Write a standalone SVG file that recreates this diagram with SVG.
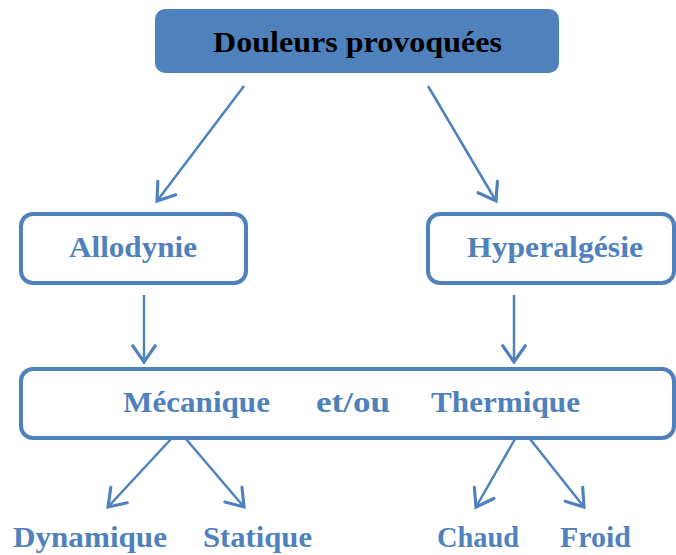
<svg xmlns="http://www.w3.org/2000/svg" width="676" height="555" viewBox="0 0 676 555">
<defs>
<marker id="ah" markerUnits="userSpaceOnUse" markerWidth="30" markerHeight="30" refX="0" refY="0" viewBox="-16 -12 20 24" orient="auto" overflow="visible">
<path d="M -13 -9 L 0 0 L -13 9" fill="none" stroke="#4F81BD" stroke-width="2.5" stroke-linecap="round" stroke-linejoin="miter"/>
</marker>
</defs>
<style>
.box{fill:#fff;stroke:#4F81BD;stroke-width:4}
.lbl{font-family:"Liberation Serif","DejaVu Serif",serif;font-weight:bold;font-size:29px;fill:#4F81BD;text-anchor:middle}
.con line{stroke:#4F81BD;stroke-width:2.5;marker-end:url(#ah)}
</style>
<rect width="676" height="555" fill="#fff"/>
<g id="n-douleurs">
<rect x="155" y="9" width="404" height="64" rx="10" fill="#4F81BD"/>
<text x="357.5" y="52" class="lbl" style="fill:#000" textLength="289" lengthAdjust="spacingAndGlyphs">Douleurs provoquées</text>
</g>
<g id="n-allodynie">
<rect x="21" y="214" width="225" height="69" rx="12" class="box"/>
<text x="133" y="257" class="lbl" textLength="128" lengthAdjust="spacingAndGlyphs">Allodynie</text>
</g>
<g id="n-hyperalgesie">
<rect x="428" y="214" width="246" height="69" rx="12" class="box"/>
<text x="555" y="257" class="lbl" textLength="176" lengthAdjust="spacingAndGlyphs">Hyperalgésie</text>
</g>
<g id="n-mecanique">
<rect x="21" y="369" width="653" height="69" rx="12" class="box"/>
<text x="196.5" y="412" class="lbl" textLength="147" lengthAdjust="spacingAndGlyphs">Mécanique</text>
<text x="353" y="412" class="lbl" textLength="74" lengthAdjust="spacingAndGlyphs">et/ou</text>
<text x="505.5" y="412" class="lbl" textLength="149" lengthAdjust="spacingAndGlyphs">Thermique</text>
</g>
<g id="n-dynamique"><text x="90" y="547" class="lbl" textLength="154" lengthAdjust="spacingAndGlyphs">Dynamique</text></g>
<g id="n-statique"><text x="257.5" y="547" class="lbl" textLength="109" lengthAdjust="spacingAndGlyphs">Statique</text></g>
<g id="n-chaud"><text x="478" y="547" class="lbl" textLength="82" lengthAdjust="spacingAndGlyphs">Chaud</text></g>
<g id="n-froid"><text x="595.5" y="547" class="lbl" textLength="71" lengthAdjust="spacingAndGlyphs">Froid</text></g>
<g id="connectors" class="con">
<line x1="244" y1="86" x2="157" y2="201"/>
<line x1="428" y1="86" x2="496" y2="201"/>
<line x1="144" y1="295" x2="144" y2="362"/>
<line x1="514" y1="295" x2="514" y2="362"/>
<line x1="171" y1="439" x2="108" y2="507"/>
<line x1="186" y1="439" x2="244" y2="507"/>
<line x1="515" y1="439" x2="476" y2="507"/>
<line x1="530" y1="439" x2="584" y2="507"/>
</g>
</svg>
